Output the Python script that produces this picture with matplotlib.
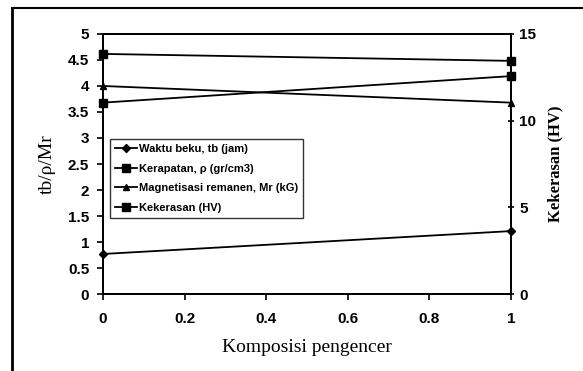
import numpy as np
import matplotlib.pyplot as plt
from matplotlib.lines import Line2D

# data
komposisi = [0, 1]
waktu_beku = [0.77, 1.21]       # tb (jam), left axis
kerapatan = [3.68, 4.19]        # rho (gr/cm3), left axis
magnetisasi = [4.0, 3.68]       # Mr (kG), left axis
kekerasan = [13.85, 13.45]      # HV, right axis

plt.rcParams['font.family'] = ['Liberation Sans', 'DejaVu Sans']

fig = plt.figure(figsize=(5.83, 3.71), dpi=100)
ax = fig.add_axes([0.1767, 0.2075, 0.6998, 0.7009])
ax2 = ax.twinx()

kw = dict(color='black', lw=1.3, clip_on=False)
ax.plot(komposisi, waktu_beku, marker='D', ms=4, label='Waktu beku, tb (jam)', **kw)
ax.plot(komposisi, kerapatan, marker='s', ms=6, label='Kerapatan, ρ (gr/cm3)', **kw)
ax.plot(komposisi, magnetisasi, marker='^', ms=5, label='Magnetisasi remanen, Mr (kG)', **kw)
ax2.plot(komposisi, kekerasan, marker='s', ms=6, label='Kekerasan (HV)', **kw)

ax.set_xlim(0, 1)
ax.set_ylim(0, 5)
ax2.set_ylim(0, 15)
ax.set_xticks(np.arange(0, 1.01, 0.2))
ax.set_xticklabels(['0', '0.2', '0.4', '0.6', '0.8', '1'])
ax.set_yticks(np.arange(0, 5.01, 0.5))
ax.set_yticklabels(['0', '0.5', '1', '1.5', '2', '2.5', '3', '3.5', '4', '4.5', '5'])
ax2.set_yticks([0, 5, 10, 15])

for a in (ax, ax2):
    for s in a.spines.values():
        s.set_linewidth(1.3)
ax.tick_params(axis='both', labelsize=11, width=1.2, length=4, direction='out')
ax.tick_params(axis='x', pad=9)
ax.tick_params(axis='y', pad=6)
ax2.tick_params(axis='y', labelsize=11, width=1.2, length=4, direction='inout', pad=4)
for lab in ax.get_xticklabels() + ax.get_yticklabels() + ax2.get_yticklabels():
    lab.set_fontweight('bold')

ax.set_xlabel('Komposisi pengencer', family='Liberation Serif', fontsize=14, labelpad=9)
ax.set_ylabel('tb/ρ/Mr', family='Liberation Serif', fontsize=14, labelpad=9)
ax2.set_ylabel('Kekerasan (HV)', family='Liberation Serif', fontsize=12,
               fontweight='bold', labelpad=8)

h1, l1 = ax.get_legend_handles_labels()
h2, l2 = ax2.get_legend_handles_labels()
leg = ax.legend(h1 + h2, l1 + l2, loc='upper left', bbox_to_anchor=(0.017, 0.595),
                prop={'weight': 'bold', 'size': 8}, frameon=True, fancybox=False,
                edgecolor='black', handlelength=2.0, handletextpad=0.15,
                labelspacing=0.85, borderpad=0.45, borderaxespad=0)
leg.get_frame().set_linewidth(1.0)

# scan border on the left and top
fig.add_artist(Line2D([12 / 583, 12 / 583], [0, 1 - 8 / 371], color='black', lw=2))
fig.add_artist(Line2D([12 / 583, 1], [1 - 8 / 371, 1 - 8 / 371], color='black', lw=1.5))

fig.savefig('out.png', dpi=100)
